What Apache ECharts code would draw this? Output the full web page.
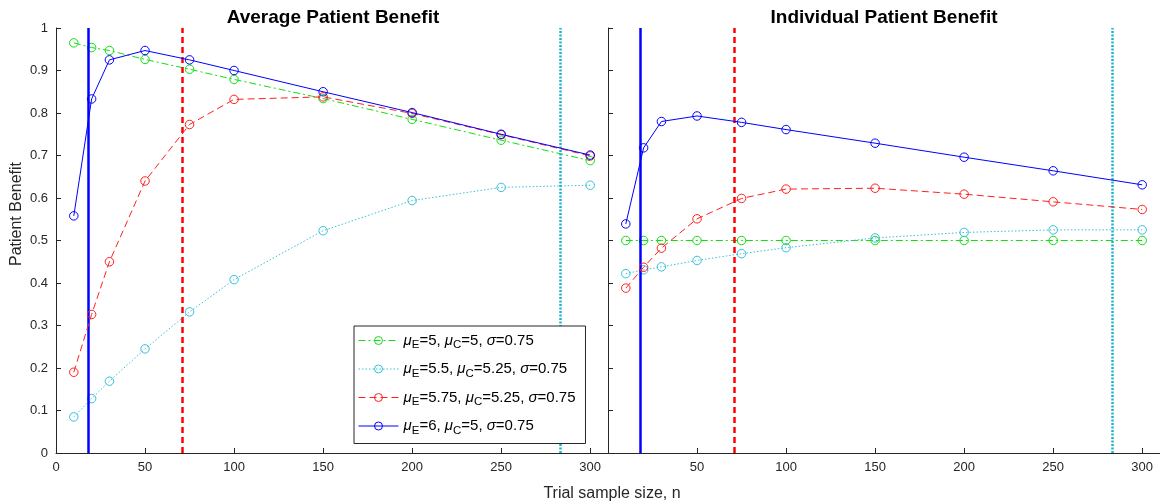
<!DOCTYPE html>
<html>
<head>
<meta charset="utf-8">
<script src="https://cdn.jsdelivr.net/npm/echarts@6/dist/echarts.min.js"></script>
<style>
  html, body { margin: 0; padding: 0; background: #fff; }
  #chart { width: 1160px; height: 504px; }
</style>
</head>
<body>
<div id="chart"></div>
<script>
// Trial sample sizes
const sampleSizes = [10, 20, 30, 50, 75, 100, 150, 200, 250, 300];
const xTicks = [0, 50, 100, 150, 200, 250, 300];

// Scenario names
const scenarioNames = [
  'mu_E=5, mu_C=5, sigma=0.75',
  'mu_E=5.5, mu_C=5.25, sigma=0.75',
  'mu_E=5.75, mu_C=5.25, sigma=0.75',
  'mu_E=6, mu_C=5, sigma=0.75'
];

// Average patient benefit
const avgEqual   = [0.965, 0.954, 0.947, 0.926, 0.903, 0.879, 0.834, 0.785, 0.736, 0.688];
const avgSmall   = [0.085, 0.128, 0.169, 0.245, 0.332, 0.408, 0.523, 0.594, 0.625, 0.630];
const avgMedium  = [0.190, 0.326, 0.450, 0.640, 0.773, 0.832, 0.838, 0.799, 0.749, 0.699];
const avgLarge   = [0.558, 0.833, 0.925, 0.947, 0.925, 0.900, 0.850, 0.801, 0.750, 0.701];

// Individual patient benefit
const indEqual   = [0.500, 0.500, 0.500, 0.500, 0.500, 0.500, 0.500, 0.500, 0.500, 0.500];
const indSmall   = [0.422, 0.431, 0.438, 0.453, 0.469, 0.483, 0.506, 0.519, 0.525, 0.525];
const indMedium  = [0.388, 0.437, 0.482, 0.551, 0.599, 0.621, 0.623, 0.609, 0.591, 0.573];
const indLarge   = [0.539, 0.718, 0.780, 0.793, 0.778, 0.761, 0.729, 0.696, 0.664, 0.631];

// Reference sample sizes (vertical lines): large, medium, small effect
const refSizes = [18, 71, 283];

const colGreen = '#10e010';
const colCyan = '#38c0da';
const colRed = '#ff2020';
const colBlue = '#0000ff';
const styles = [
  { color: colGreen, type: [7, 3, 2, 3] },
  { color: colCyan, type: [1.5, 2] },
  { color: colRed, type: [7, 4] },
  { color: colBlue, type: 'solid' }
];

const fontFam = '"Liberation Sans", Arial, Helvetica, sans-serif';
const axisCol = '#262626';

function pairs(ys) { return sampleSizes.map((n, i) => [n, ys[i]]); }

function refLines() {
  return {
    silent: true,
    symbol: 'none',
    label: { show: false },
    animation: false,
    data: [
      { xAxis: refSizes[0], lineStyle: { color: '#0000ff', width: 2.5, type: 'solid' } },
      { xAxis: refSizes[1], lineStyle: { color: '#ff0000', width: 2.5, type: [6, 4] } },
      { xAxis: refSizes[2], lineStyle: { color: '#1ab4d0', width: 2.5, type: [2, 1.5] } }
    ]
  };
}

// Open circle markers: white-filled circles with a thin coloured outline
function makeSeries(panel, sets) {
  return sets.map((ys, k) => ({
    name: scenarioNames[k],
    type: 'line',
    xAxisIndex: panel,
    yAxisIndex: panel,
    data: pairs(ys),
    symbol: 'circle',
    symbolSize: 8.5,
    showAllSymbol: true,
    z: 3 + k,
    lineStyle: { color: styles[k].color, width: 1, type: styles[k].type },
    itemStyle: { color: 'rgba(255,255,255,0)', borderColor: styles[k].color, borderWidth: 1 },
    emphasis: { disabled: true },
    markLine: k === 3 ? refLines() : undefined
  }));
}

function xAxisFor(idx, labelVals) {
  return {
    type: 'value', gridIndex: idx, min: 0, max: 310,
    axisLine: { onZero: false, lineStyle: { color: axisCol, width: 1 } },
    axisTick: { inside: true, length: 5, customValues: labelVals, lineStyle: { color: axisCol } },
    axisLabel: { customValues: labelVals, color: axisCol, fontSize: 13, fontFamily: fontFam, margin: 8 },
    splitLine: { show: false }
  };
}

function yAxisFor(idx, showLabels) {
  return {
    type: 'value', gridIndex: idx, min: 0, max: 1, interval: 0.1,
    axisLine: { show: true, lineStyle: { color: axisCol, width: 1 } },
    axisTick: { show: true, inside: true, length: 5, lineStyle: { color: axisCol } },
    axisLabel: {
      show: showLabels, color: axisCol, fontSize: 13, fontFamily: fontFam, margin: 8,
      formatter: v => (Math.round(v * 10) / 10).toString()
    },
    splitLine: { show: false }
  };
}

const legendRich = {
  g: { fontStyle: 'italic', fontSize: 15, fontFamily: fontFam, color: '#000' },
  s: { fontSize: 11.5, fontFamily: fontFam, color: '#000', padding: [9, 0, 0, 0] },
  t: { fontSize: 15, fontFamily: fontFam, color: '#000' }
};
const legendLabels = {
  [scenarioNames[0]]: '{g|\u03bc}{s|E}{t|=5, }{g|\u03bc}{s|C}{t|=5, }{g|\u03c3}{t|=0.75}',
  [scenarioNames[1]]: '{g|\u03bc}{s|E}{t|=5.5, }{g|\u03bc}{s|C}{t|=5.25, }{g|\u03c3}{t|=0.75}',
  [scenarioNames[2]]: '{g|\u03bc}{s|E}{t|=5.75, }{g|\u03bc}{s|C}{t|=5.25, }{g|\u03c3}{t|=0.75}',
  [scenarioNames[3]]: '{g|\u03bc}{s|E}{t|=6, }{g|\u03bc}{s|C}{t|=5, }{g|\u03c3}{t|=0.75}'
};

const chart = echarts.init(document.getElementById('chart'), null, { renderer: 'canvas' });
chart.setOption({
  animation: false,
  backgroundColor: '#ffffff',
  title: [
    { text: 'Average Patient Benefit', left: 328, top: 3, textAlign: 'center',
      textStyle: { fontSize: 19, fontWeight: 'bold', color: '#000', fontFamily: fontFam } },
    { text: 'Individual Patient Benefit', left: 879, top: 3, textAlign: 'center',
      textStyle: { fontSize: 19, fontWeight: 'bold', color: '#000', fontFamily: fontFam } },
    { text: 'Trial sample size, n', left: 607, top: 481, textAlign: 'center',
      textStyle: { fontSize: 16, fontWeight: 'normal', color: axisCol, fontFamily: fontFam } }
  ],
  graphic: [
    { type: 'text', x: 17, y: 214, rotation: Math.PI / 2, silent: true,
      style: { text: 'Patient Benefit', fill: axisCol, font: '16px ' + fontFam,
               textAlign: 'center', textVerticalAlign: 'middle' } }
  ],
  grid: [
    { left: 56, top: 28, width: 552, height: 425 },
    { left: 608, top: 28, width: 552, height: 425 }
  ],
  xAxis: [
    xAxisFor(0, xTicks),
    xAxisFor(1, xTicks.slice(1))
  ],
  yAxis: [
    yAxisFor(0, true),
    yAxisFor(1, false)
  ],
  legend: {
    data: scenarioNames,
    orient: 'vertical',
    left: 354, top: 326,
    padding: [7, 10, 7, 4],
    itemGap: 10.5,
    itemWidth: 40, itemHeight: 10,
    z: 20,
    borderColor: '#262626', borderWidth: 1,
    backgroundColor: '#ffffff',
    selectedMode: false,
    lineStyle: { width: 1 },
    itemStyle: { borderWidth: 1 },
    formatter: name => legendLabels[name],
    textStyle: { rich: legendRich, fontSize: 15, fontFamily: fontFam, color: '#000' }
  },
  series: [
    ...makeSeries(0, [avgEqual, avgSmall, avgMedium, avgLarge]),
    ...makeSeries(1, [indEqual, indSmall, indMedium, indLarge])
  ]
});
</script>
</body>
</html>
